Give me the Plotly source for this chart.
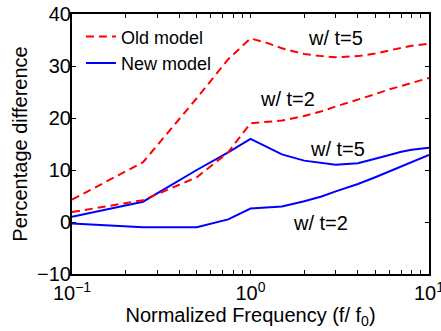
import math
import plotly.graph_objects as go

# normalized frequency points
freq = [0.1, 0.25, 0.5, 0.75, 1.0, 1.25, 1.5, 2.0, 2.5, 3.0, 4.0, 5.0, 6.0, 7.0, 8.0, 10.0]

old_t5 = [4.3, 11.5, 23.8, 31.3, 35.3, 34.4, 33.4, 32.3, 31.9, 31.7, 31.9, 32.4, 33.0, 33.5, 33.9, 34.3]
old_t2 = [1.9, 4.2, 8.6, 13.4, 19.0, 19.2, 19.5, 20.4, 21.3, 22.2, 23.5, 24.6, 25.5, 26.2, 26.8, 27.7]
new_t5 = [1.0, 3.9, 10.0, 13.4, 16.0, 14.4, 13.0, 11.8, 11.3, 11.0, 11.3, 12.1, 12.9, 13.5, 13.9, 14.3]
new_t2 = [-0.3, -1.0, -1.0, 0.5, 2.6, 2.8, 3.0, 4.0, 4.9, 5.9, 7.3, 8.6, 9.7, 10.7, 11.5, 12.9]

x_tickvals = [0.1, 0.2, 0.3, 0.4, 0.5, 0.6, 0.7, 0.8, 0.9,
              1, 2, 3, 4, 5, 6, 7, 8, 9, 10]
x_ticktext = ["10<sup>−1</sup>", "", "", "", "", "", "", "", "",
              "10<sup>0</sup>", "", "", "", "", "", "", "", "", "10<sup>1</sup>"]
y_tickvals = [-10, 0, 10, 20, 30, 40]
y_ticktext = ["−10", "0", "10", "20", "30", "40"]

labels = [
    ("w/ t=5", 3.0, 35.4),
    ("w/ t=2", 1.61, 23.65),
    ("w/ t=5", 3.07, 14.0),
    ("w/ t=2", 2.47, -0.2),
]

RED = "#ff0000"
BLUE = "#0000ff"
FONT = "Liberation Sans, Arial, sans-serif"

fig = go.Figure()
fig.add_trace(go.Scatter(x=freq, y=old_t5, mode="lines", name="Old model",
                         line=dict(color=RED, width=2, dash="8px,5px")))
fig.add_trace(go.Scatter(x=freq, y=new_t5, mode="lines", name="New model",
                         line=dict(color=BLUE, width=2)))
fig.add_trace(go.Scatter(x=freq, y=old_t2, mode="lines", showlegend=False,
                         line=dict(color=RED, width=2, dash="8px,5px")))
fig.add_trace(go.Scatter(x=freq, y=new_t2, mode="lines", showlegend=False,
                         line=dict(color=BLUE, width=2)))

for txt, xv, yv in labels:
    fig.add_annotation(x=math.log10(xv), y=yv, xref="x", yref="y", text=txt,
                       showarrow=False,
                       font=dict(size=20, color="black", family=FONT))

fig.update_layout(
    width=441, height=331,
    margin=dict(l=72, r=12, t=14, b=57, autoexpand=False),
    paper_bgcolor="white", plot_bgcolor="white",
    font=dict(family=FONT, size=20, color="black"),
    legend=dict(x=0.025, y=0.983, xanchor="left", yanchor="top",
                bgcolor="rgba(0,0,0,0)", font=dict(size=18), tracegroupgap=0),
)
fig.update_xaxes(
    type="log", range=[-1.0001, 1.0001], automargin=False,
    tickmode="array", tickvals=x_tickvals, ticktext=x_ticktext,
    ticks="inside", ticklen=4, tickwidth=1, tickcolor="black",
    showline=True, linewidth=2, linecolor="black", mirror="allticks",
    showgrid=False, zeroline=False, ticklabeloverflow="allow",
    tickfont=dict(size=20),
    title=dict(text="Normalized Frequency (f/ f<sub>0</sub>)", font=dict(size=20), standoff=3),
)
fig.update_yaxes(
    range=[-10, 40], automargin=False,
    tickmode="array", tickvals=y_tickvals, ticktext=y_ticktext,
    ticks="inside", ticklen=4, tickwidth=1, tickcolor="black",
    showline=True, linewidth=2, linecolor="black", mirror="allticks",
    showgrid=False, zeroline=False, ticklabelstandoff=-5,
    tickfont=dict(size=20),
    title=dict(text="Percentage difference", font=dict(size=20), standoff=4),
)

fig.write_html("out.html")
